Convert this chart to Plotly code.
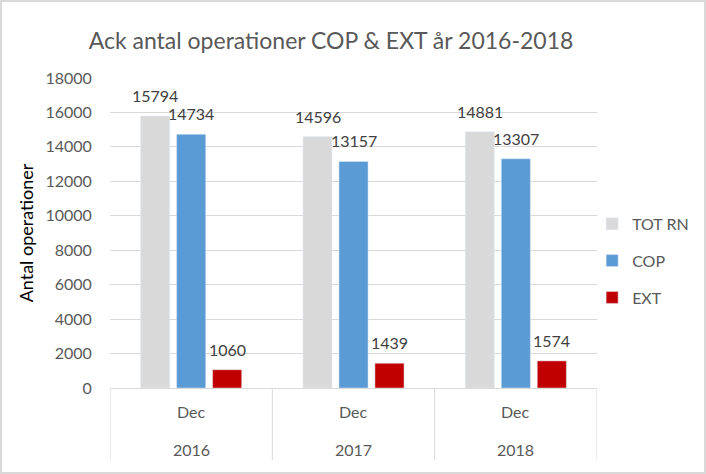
import plotly.graph_objects as go

years = ["2016", "2017", "2018"]
months = ["Dec", "Dec", "Dec"]
series_names = ["TOT RN", "COP", "EXT"]
tot_rn = [15794, 14596, 14881]
cop = [14734, 13157, 13307]
ext = [1060, 1439, 1574]
y_ticks = [0, 2000, 4000, 6000, 8000, 10000, 12000, 14000, 16000, 18000]

colors = ["#d9d9d9", "#5b9bd5", "#c00000"]
FONT = "Lato"
TXT = "#595959"
BARGAP = 0.335

fig = go.Figure()
all_series = [tot_rn, cop, ext]
for name, vals, col in zip(series_names, all_series, colors):
    fig.add_trace(go.Bar(
        x=years, y=vals, name=name, marker_color=col, legendgroup=name,
    ))

W, H = 706, 474
L, R, T, B = 110, 109, 78, 86
pw, ph = W - L - R, H - T - B

annotations = []
slot = (1 - BARGAP) / len(all_series)
for k, vals in enumerate(all_series):
    off = (k - (len(all_series) - 1) / 2) * slot
    for i, v in enumerate(vals):
        annotations.append(dict(x=i + off, xref="x", y=v, yref="y", text=str(v),
                                showarrow=False, yanchor="bottom", yshift=9,
                                font=dict(family=FONT, size=16, color="#404040")))
for i, (yr, mo) in enumerate(zip(years, months)):
    annotations.append(dict(x=i, xref="x", y=(388 - 411) / ph, yref="paper",
                            text=mo, showarrow=False, yanchor="middle",
                            font=dict(family=FONT, size=16, color=TXT)))
    annotations.append(dict(x=i, xref="x", y=(388 - 449) / ph, yref="paper",
                            text=yr, showarrow=False, yanchor="middle",
                            font=dict(family=FONT, size=16, color=TXT)))

shapes = []
for xs in [-0.5, 0.5, 1.5, 2.5]:
    shapes.append(dict(type="line", xref="x", yref="paper", x0=xs, x1=xs,
                       y0=0, y1=(388 - 460) / ph, line=dict(color="#d9d9d9", width=1)))
shapes.append(dict(type="rect", xref="paper", yref="paper",
                   x0=-(L - 1) / pw, x1=1 + (R - 1) / pw,
                   y0=-(B - 1) / ph, y1=1 + (T - 1) / ph,
                   line=dict(color="#d9d9d9", width=2)))

fig.update_layout(
    width=W, height=H,
    margin=dict(l=L, r=R, t=T, b=B, pad=0),
    paper_bgcolor="white", plot_bgcolor="white",
    barmode="group", bargap=BARGAP, bargroupgap=0.19,
    title=dict(text="Ack antal operationer COP &amp; EXT år 2016-2018",
               x=331 / W, xanchor="center", xref="container",
               y=1 - 41 / H, yref="container", yanchor="middle",
               font=dict(family=FONT, size=23, color=TXT)),
    xaxis=dict(type="category", showticklabels=False, showgrid=False,
               showline=True, linecolor="#d9d9d9", linewidth=1, zeroline=False,
               range=[-0.5, 2.5]),
    yaxis=dict(range=[0, 18000], tickvals=y_ticks, ticktext=[str(v) for v in y_ticks],
               showgrid=True, gridcolor="#d9d9d9", gridwidth=1, zeroline=False,
               showline=False, ticks="outside", ticklen=14, tickcolor="rgba(0,0,0,0)",
               tickfont=dict(family=FONT, size=16, color=TXT),
               title=dict(text="Antal operationer", standoff=7,
                          font=dict(family=FONT, size=18, color="#000000"))),
    legend=dict(x=0.99, xanchor="left", y=0.41, yanchor="middle",
                font=dict(family=FONT, size=16, color=TXT),
                traceorder="grouped", tracegroupgap=13, itemwidth=30,
                bgcolor="rgba(0,0,0,0)"),
    annotations=annotations,
    shapes=shapes,
)

fig.write_html("out.html", config={"displayModeBar": False},
               post_script="document.body.style.margin='0';")
